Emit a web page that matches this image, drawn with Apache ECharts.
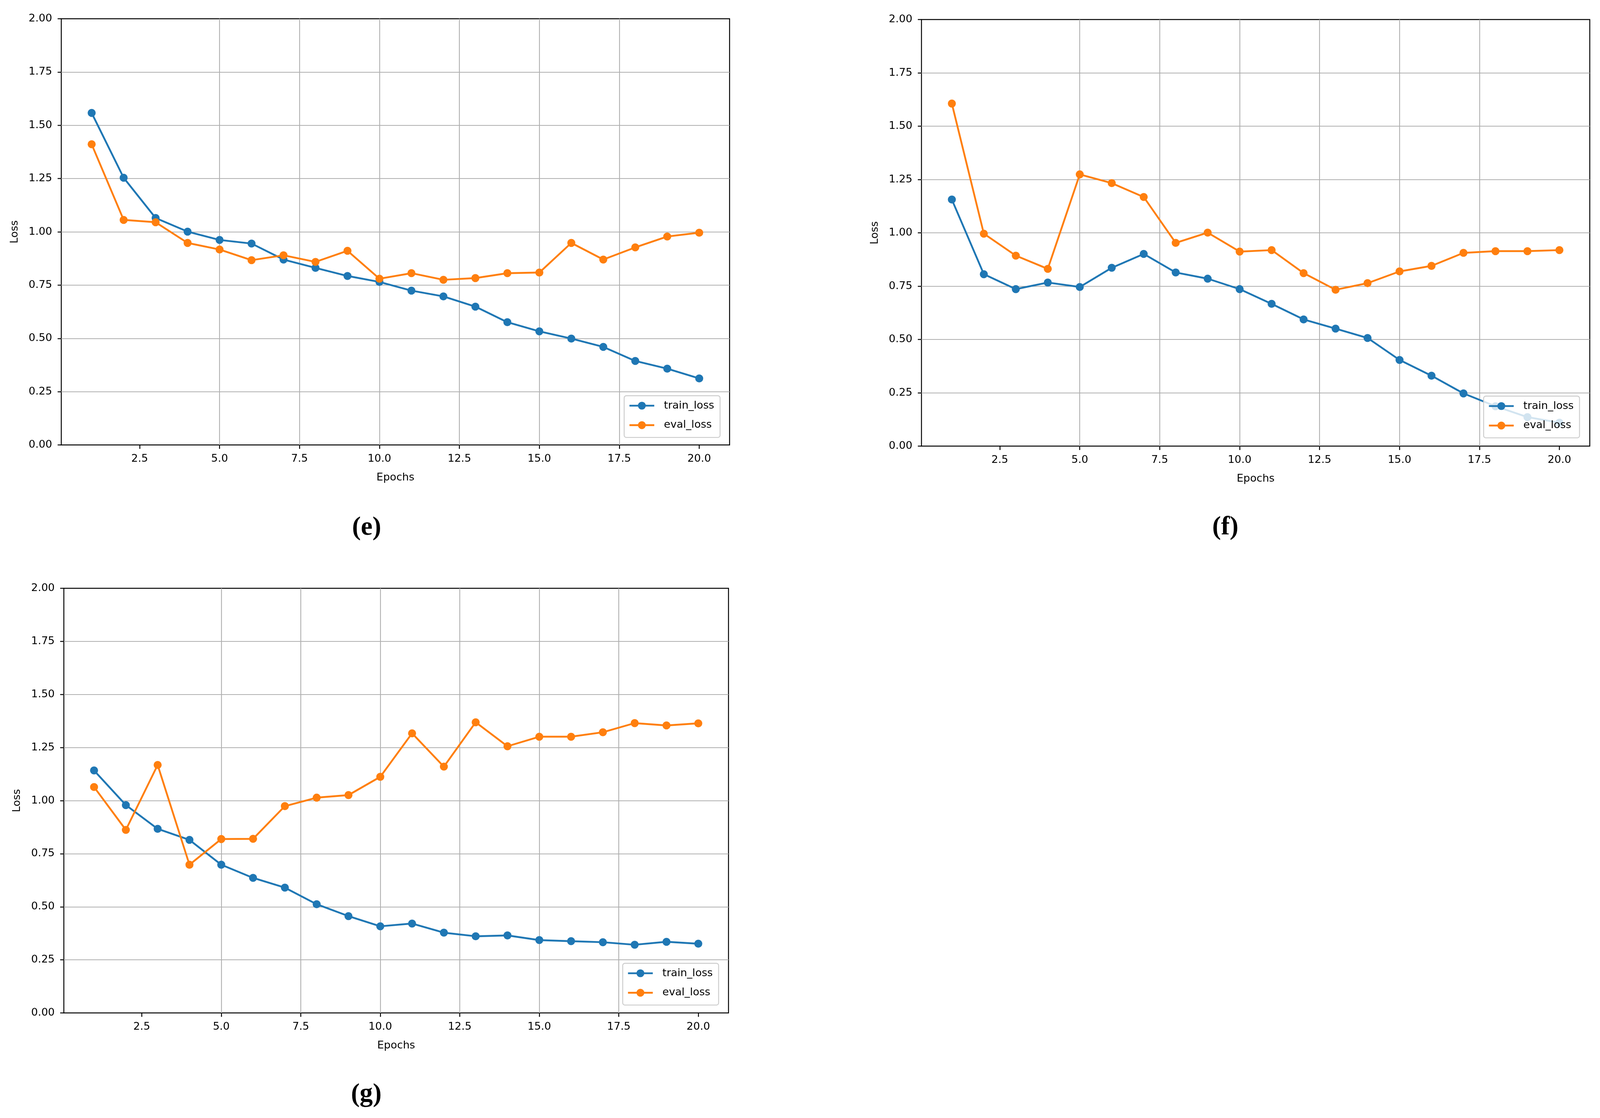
<!DOCTYPE html>
<html>
<head>
<meta charset="utf-8">
<script src="https://cdn.jsdelivr.net/npm/echarts@6/dist/echarts.min.js"></script>
<style>
html,body{margin:0;padding:0;background:#fff;overflow:hidden;}
#chart{position:absolute;left:0;top:0;}
</style>
</head>
<body>
<div id="chart"></div>
<script>
const epochs = [1,2,3,4,5,6,7,8,9,10,11,12,13,14,15,16,17,18,19,20];
const xTicks = [2.5,5,7.5,10,12.5,15,17.5,20];
const panelLabels = ['(e)','(f)','(g)'];
const seriesNames = ['train_loss','eval_loss'];

const trainE = [1.558,1.254,1.065,1.001,0.962,0.945,0.870,0.831,0.793,0.765,0.724,0.697,0.649,0.576,0.533,0.499,0.460,0.394,0.358,0.312];
const evalE  = [1.411,1.056,1.045,0.948,0.917,0.867,0.890,0.859,0.911,0.780,0.806,0.775,0.783,0.806,0.809,0.948,0.870,0.927,0.978,0.996];

const trainF = [1.156,0.806,0.736,0.767,0.746,0.836,0.901,0.814,0.785,0.736,0.667,0.594,0.551,0.507,0.404,0.330,0.247,0.187,0.136,0.110];
const evalF  = [1.606,0.996,0.893,0.831,1.274,1.233,1.168,0.953,1.001,0.912,0.919,0.811,0.733,0.764,0.819,0.845,0.906,0.914,0.914,0.919];

const trainG = [1.142,0.979,0.867,0.815,0.698,0.636,0.590,0.512,0.456,0.408,0.421,0.378,0.361,0.365,0.343,0.338,0.333,0.321,0.335,0.326];
const evalG  = [1.064,0.862,1.168,0.698,0.819,0.820,0.974,1.014,1.026,1.112,1.317,1.160,1.369,1.256,1.301,1.301,1.322,1.365,1.354,1.364];

const panels = [[trainE, evalE],[trainF, evalF],[trainG, evalG]];
const colors = ['#1f77b4','#ff7f0e'];

const FONT = 'DejaVu Sans';

// Layout is designed for 4386 x 2862; stretch it to fill the actual viewport.
const W = window.innerWidth || 4386, H = window.innerHeight || 2862;
const sx = W / 4386, sy = H / 2862;
const el = document.getElementById('chart');
el.style.width = W + 'px';
el.style.height = H + 'px';
const X = v => v * sx;
const Y = v => v * sy;
const FS = X(29);

const grids = [
  {left:168, top:48, width:1832, height:1091},
  {left:2526, top:50, width:1832, height:1092},
  {left:175, top:1506, width:1822, height:1087}
];
const legendPos = [
  {left:1711, top:1013},
  {left:4067, top:1014},
  {left:1707, top:2466}
];
const captionPos = [
  {x:1005, y:1352},
  {x:3359, y:1351},
  {x:1004, y:2803}
];

const option = {
  backgroundColor:'#ffffff',
  animation:false,
  grid: grids.map(g => ({show:true, borderColor:'#000', borderWidth:X(2.6), backgroundColor:'transparent',
    left:X(g.left), top:Y(g.top), width:X(g.width), height:Y(g.height)})),
  xAxis: grids.map((g,i) => ({
    type:'value', gridIndex:i, min:0.05, max:20.95, minInterval:2.5, maxInterval:2.5,
    name:'Epochs', nameLocation:'middle', nameGap:Y(70),
    nameTextStyle:{fontFamily:FONT, fontSize:FS, color:'#000'},
    axisLine:{show:false},
    axisTick:{show:true, inside:false, length:Y(10), customValues:xTicks, lineStyle:{color:'#000', width:X(2.6)}},
    axisLabel:{show:true, margin:Y(22), customValues:xTicks, fontFamily:FONT, fontSize:FS, color:'#000',
      formatter: v => (Math.abs(v/2.5 - Math.round(v/2.5)) < 1e-6 ? v.toFixed(1) : '')},
    splitLine:{show:true, showMinLine:false, showMaxLine:false, lineStyle:{color:'#b0b0b0', width:X(2.4)}}
  })),
  yAxis: grids.map((g,i) => ({
    type:'value', gridIndex:i, min:0, max:2, interval:0.25,
    name:'Loss', nameLocation:'middle', nameGap:X(113), nameRotate:90,
    nameTextStyle:{fontFamily:FONT, fontSize:FS, color:'#000'},
    axisLine:{show:false},
    axisTick:{show:true, inside:false, length:X(10), lineStyle:{color:'#000', width:X(2.6)}},
    axisLabel:{show:true, margin:X(25), fontFamily:FONT, fontSize:FS, color:'#000',
      formatter: v => v.toFixed(2)},
    splitLine:{show:true, showMinLine:false, showMaxLine:false, lineStyle:{color:'#b0b0b0', width:X(2.4)}}
  })),
  legend: legendPos.map((p,i) => ({
    left:X(p.left), top:Y(p.top), orient:'vertical',
    data:seriesNames,
    itemWidth:X(68), itemHeight:X(27), itemGap:Y(50) - X(29),
    padding:[Y(12),X(16),Y(18),X(12)],
    backgroundColor:'rgba(255,255,255,0.8)',
    borderColor:'#cccccc', borderWidth:X(2.5), borderRadius:X(6),
    lineStyle:{width:X(5)},
    textStyle:{fontFamily:FONT, fontSize:FS, color:'#000', padding:[0,0,0,X(21)]},
    selectedMode:false
  })),
  series: [],
  graphic: captionPos.map((p,i) => ({
    type:'text', x:X(p.x), y:Y(p.y),
    style:{text:panelLabels[i], font:'bold ' + X(72) + 'px "Liberation Serif"', fill:'#000', textAlign:'center', textVerticalAlign:'middle', verticalAlign:'middle'}
  }))
};

panels.forEach((pair, gi) => {
  pair.forEach((vals, si) => {
    option.series.push({
      name: seriesNames[si], type:'line', xAxisIndex:gi, yAxisIndex:gi,
      data: epochs.map((e,k) => [e, vals[k]]),
      symbol:'circle', symbolSize:X(22), showSymbol:true,
      itemStyle:{color:colors[si]},
      lineStyle:{color:colors[si], width:X(5)},
      clip:false, z:2 + si
    });
  });
});

const chart = echarts.init(el, null, {renderer:'canvas'});
chart.setOption(option);
</script>
</body>
</html>
